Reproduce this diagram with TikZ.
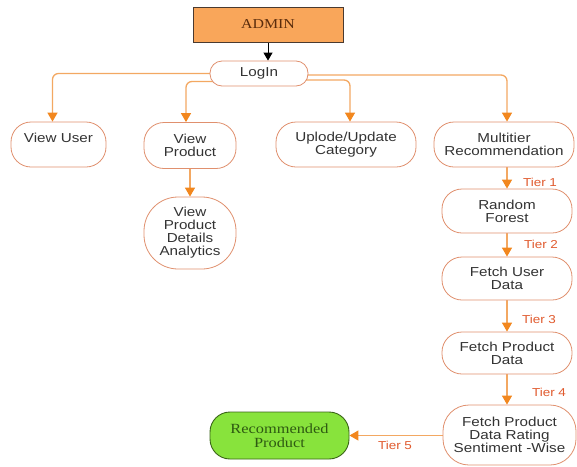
\documentclass[tikz,border=0pt]{standalone}
\usepackage{fontspec}
\setmainfont{Liberation Sans}[FakeStretch=1.17]
\newfontfamily\titleserif{Liberation Serif}[FakeStretch=1.17]
\usetikzlibrary{arrows.meta,calc,backgrounds}

\definecolor{nodeline}{HTML}{E0906E}
\definecolor{linkline}{HTML}{F3A862}
\definecolor{linktip}{HTML}{F2871E}
\definecolor{textgray}{HTML}{333333}
\definecolor{tiertext}{HTML}{E05A2E}
\definecolor{adminfill}{HTML}{F9A65A}
\definecolor{adminline}{HTML}{4A3A30}
\definecolor{admintext}{HTML}{5A2C0C}
\definecolor{recfill}{HTML}{88E33C}
\definecolor{recline}{HTML}{3A6418}
\definecolor{rectext}{HTML}{2E5A12}

\tikzset{
  box/.style={draw=nodeline, line width=0.8pt, fill=white, rounded corners=20pt,
    inner sep=0pt, align=center, text=textgray,
    font=\fontsize{13}{13}\selectfont},
  link/.style={draw=linkline, line width=1.3pt, rounded corners=6pt,
    -{Triangle[length=9pt,width=10pt,color=linktip]}},
  tier/.style={text=tiertext, font=\fontsize{11.5}{12}\selectfont, inner sep=0pt}
}

\begin{document}
\begin{tikzpicture}[x=1pt,y=-1pt]
\useasboundingbox (0,0) rectangle (577,466);

% top of the tree
\node[draw=adminline, line width=0.9pt, fill=adminfill, minimum width=150pt,
  minimum height=35pt, inner sep=0pt, text=admintext,
  font=\titleserif\fontsize{13.6}{14}\selectfont] (admin) at (268,24.5) {ADMIN};
\node[box, rounded corners=12pt, minimum width=98pt, minimum height=25pt] (login) at (259,73.5) {LogIn};

% admin functions
\node[box, minimum width=95pt, minimum height=45pt] (viewuser) at (58.5,144.5) {View User\\\mbox{}};
\node[box, minimum width=92pt, minimum height=46pt] (viewprod) at (190,145.5) {View\\Product};
\node[box, rounded corners=34pt, minimum width=92pt, minimum height=72pt] (details) at (190,233) {View\\Product\\Details\\Analytics};
\node[box, minimum width=140pt, minimum height=45pt] (upload) at (346,144.5) {Uplode/Update\\Category};
\node[box, minimum width=140pt, minimum height=45pt] (multi) at (504,144.5) {Multitier\\Recommendation};

% recommendation tiers
\node[box, minimum width=130pt, minimum height=44pt] (rf) at (507,211) {Random\\Forest};
\node[box, minimum width=130pt, minimum height=43pt] (fud) at (507,278.5) {Fetch User\\Data};
\node[box, minimum width=130pt, minimum height=42pt] (fpd) at (507,353) {Fetch Product\\Data};
\node[box, rounded corners=26pt, minimum width=133pt, minimum height=60pt] (fpdr) at (509.5,435) {Fetch Product\\Data Rating\\Sentiment -Wise};

\node[draw=recline, line width=0.9pt, fill=recfill, rounded corners=20pt,
  minimum width=139pt, minimum height=47pt, inner sep=0pt, align=center,
  text=rectext, font=\titleserif\fontsize{14}{13.5}\selectfont] (rec) at (279.5,435.5) {Recommended\\Product};

\node[tier] (t1) at (540,182) {Tier 1};
\node[tier] (t2) at (541,244) {Tier 2};
\node[tier] (t3) at (539,319) {Tier 3};
\node[tier] (t4) at (549,392) {Tier 4};
\node[tier] (t5) at (395,445) {Tier 5};

% connectors
\begin{scope}[on background layer]
  \draw[line width=1pt, -{Triangle[length=8pt,width=9pt]}] (admin.south) -- (admin.south |- login.north);
  \draw[link] (login.center) -| ($(viewuser.north)+(-6,0)$);
  \draw[link] ($(login.center)+(0,8)$) -| ($(viewprod.north)+(-4,0)$);
  \draw[link] ($(login.center)+(0,6.5)$) -| ($(upload.north)+(4,0)$);
  \draw[link] ($(login.center)+(0,1.5)$) -| ($(multi.north)+(3,0)$);
  \draw[link] (viewprod.south) -- (details.north);
  \draw[link] (rf.north |- multi.south) -- (rf.north);
  \draw[link] (rf.south) -- (fud.north);
  \draw[link] (fud.south) -- (fpd.north);
  \draw[link] (fpd.south) -- (fpd.south |- fpdr.north);
  \draw[link] (fpdr.west |- rec.east) -- (rec.east);
\end{scope}
\end{tikzpicture}
\end{document}
